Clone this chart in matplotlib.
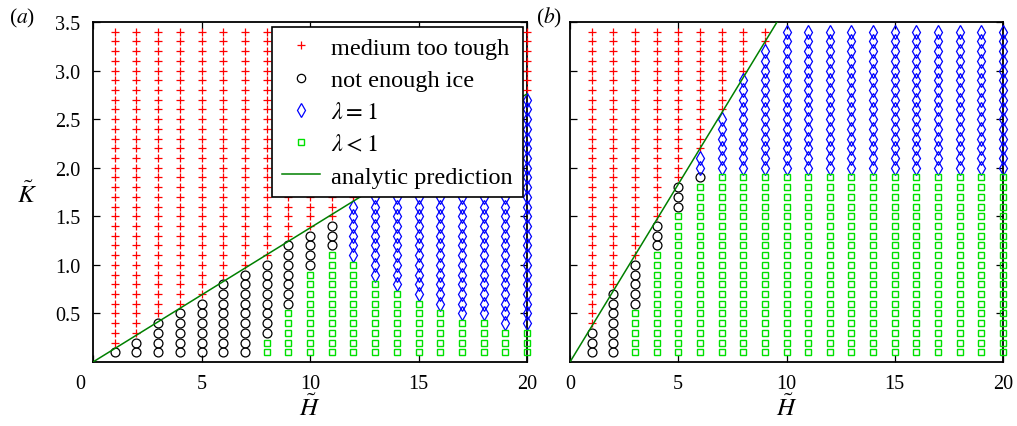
import numpy as np
import matplotlib
matplotlib.use('Agg')
import matplotlib.pyplot as plt
import matplotlib.transforms as mtransforms
from matplotlib.lines import Line2D

plt.rcParams['font.family'] = ['Liberation Serif', 'DejaVu Serif']
plt.rcParams['mathtext.fontset'] = 'stix'

# parameter grid
H_vals = np.arange(1, 21)
K_levels = np.round(np.arange(1, 35) * 0.1, 1)

# upper K of each outcome per column (squares, then circles, then diamonds, '+' above)
a_sq_top = [0, 0, 0, 0, 0, 0, 0, 0.2, 0.5, 0.9, 1.1, 1.0, 0.8, 0.7, 0.6, 0.5, 0.4, 0.4, 0.3, 0.3]
a_circ_top = [0.1, 0.2, 0.4, 0.5, 0.6, 0.8, 0.9, 1.0, 1.2, 1.3, 1.4, 1.0, 0.8, 0.7, 0.6, 0.5, 0.4, 0.4, 0.3, 0.3]
a_dia_top = [0.1, 0.2, 0.4, 0.5, 0.6, 0.8, 0.9, 1.0, 1.2, 1.3, 1.4, 1.6, 1.7, 1.9, 2.0, 2.2, 2.3, 2.4, 2.6, 2.7]

b_sq_top = [0, 0, 0.5, 1.1, 1.5, 1.8] + [1.9] * 14
b_circ_top = [0.3, 0.7, 1.0, 1.4, 1.8, 1.9] + [1.9] * 14
b_dia_top = [0.3, 0.7, 1.0, 1.4, 1.8, 2.1, 2.5, 2.9, 3.2] + [3.4] * 11

# analytic prediction K = slope * H
slope_a = 0.138
slope_b = 0.366

RED, BLUE, GREEN, LINE = '#ff0000', '#0000ff', '#00e000', '#008000'

W, Hpx = 1017, 427
fig = plt.figure(figsize=(W / 100, Hpx / 100), dpi=100)
ax_a = fig.add_axes([93 / W, 1 - 363 / Hpx, 434 / W, 340 / Hpx])
ax_b = fig.add_axes([570 / W, 1 - 363 / Hpx, 433 / W, 340 / Hpx])


def classify(sq, circ, dia):
    groups = {'plus': ([], []), 'circ': ([], []), 'dia': ([], []), 'sq': ([], [])}
    for i, h in enumerate(H_vals):
        for k in K_levels:
            if k <= sq[i] + 1e-9:
                key = 'sq'
            elif k <= circ[i] + 1e-9:
                key = 'circ'
            elif k <= dia[i] + 1e-9:
                key = 'dia'
            else:
                key = 'plus'
            groups[key][0].append(h)
            groups[key][1].append(k)
    return groups


def draw_panel(ax, sq, circ, dia, slope):
    g = classify(sq, circ, dia)
    kw = dict(linestyle='none', clip_on=False, zorder=3)
    ax.plot(*g['plus'], marker='+', color=RED, markersize=5.3,
            markeredgewidth=0.9, **kw)
    ax.plot(*g['circ'], marker='o', markerfacecolor='none',
            markeredgecolor='black', markersize=6.4, markeredgewidth=0.9, **kw)
    ax.plot(*g['dia'], marker='d', markerfacecolor='none',
            markeredgecolor=BLUE, markersize=7.2, markeredgewidth=0.9, **kw)
    ax.plot(*g['sq'], marker='s', markerfacecolor='none',
            markeredgecolor=GREEN, markersize=4.8, markeredgewidth=1.0, **kw)
    ax.plot([0, 20], [0, slope * 20], color=LINE, lw=1.1, zorder=4)

    ax.set_xlim(0, 20)
    ax.set_ylim(0, 3.5)
    ax.set_xticks([0, 5, 10, 15, 20])
    ax.set_yticks([0.5, 1.0, 1.5, 2.0, 2.5, 3.0, 3.5])
    ax.set_yticklabels(['0.5', '1.0', '1.5', '2.0', '2.5', '3.0', '3.5'])
    ax.tick_params(direction='in', top=True, right=True, length=5, width=0.9,
                   labelsize=14.5, pad=9)
    for s in ax.spines.values():
        s.set_linewidth(1.3)
        s.set_zorder(2.5)


draw_panel(ax_a, a_sq_top, a_circ_top, a_dia_top, slope_a)
draw_panel(ax_b, b_sq_top, b_circ_top, b_dia_top, slope_b)
ax_b.set_yticklabels([])

# "0" on the left panel sits slightly left of the corner
lbl0 = ax_a.get_xticklabels()[0]
lbl0.set_transform(lbl0.get_transform() + mtransforms.ScaledTranslation(-0.13, 0, fig.dpi_scale_trans))

leg_handles = [
    Line2D([], [], ls='none', marker='+', color=RED, markersize=5.5, markeredgewidth=0.9),
    Line2D([], [], ls='none', marker='o', mfc='none', mec='black', markersize=6, markeredgewidth=0.9),
    Line2D([], [], ls='none', marker='d', mfc='none', mec=BLUE, markersize=7, markeredgewidth=0.9),
    Line2D([], [], ls='none', marker='s', mfc='none', mec=GREEN, markersize=4.5, markeredgewidth=1.0),
    Line2D([], [], color=LINE, lw=1.1),
]
leg_labels = ['medium too tough', 'not enough ice', r'$\lambda = 1$', r'$\lambda < 1$',
              'analytic prediction']
leg = ax_a.legend(leg_handles, leg_labels, loc='upper left',
                  bbox_to_anchor=(0.412, 0.985), fontsize=17.5, frameon=True,
                  fancybox=False, framealpha=1, edgecolor='black', numpoints=1,
                  handlelength=1.6, handletextpad=0.45, labelspacing=0.42,
                  borderpad=0.4, borderaxespad=0)
leg.get_frame().set_linewidth(1.2)
leg.set_zorder(10)

fig.text(27 / W, 1 - 195 / Hpx, r'$\tilde{K}$', fontsize=18, ha='center', va='center')
fig.text(310 / W, 1 - 408 / Hpx, r'$\tilde{H}$', fontsize=18, ha='center', va='center')
fig.text(787 / W, 1 - 408 / Hpx, r'$\tilde{H}$', fontsize=18, ha='center', va='center')
fig.text(22 / W, 1 - 18 / Hpx, r'($a$)', fontsize=15.5, ha='center', va='center')
fig.text(549 / W, 1 - 18 / Hpx, r'($b$)', fontsize=15.5, ha='center', va='center')

fig.savefig('out.png', dpi=100)
